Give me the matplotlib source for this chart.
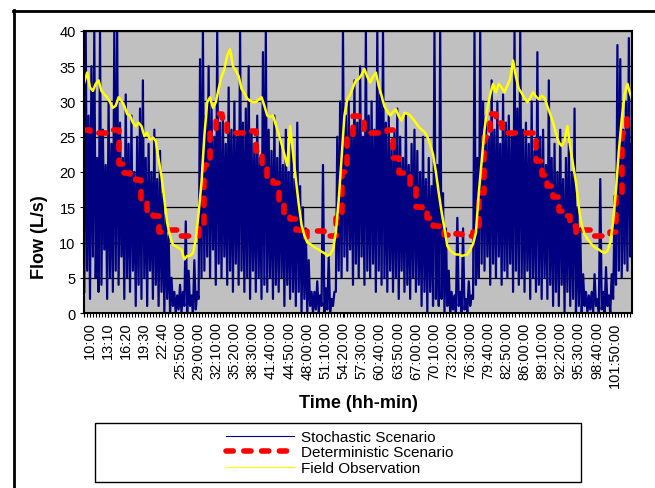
import numpy as np
import matplotlib.pyplot as plt
from matplotlib.patches import Rectangle
from matplotlib.lines import Line2D

plt.rcParams['font.family'] = ['Liberation Sans', 'DejaVu Sans']

# stochastic scenario, one value every 15 min starting at 9:00 (two hours per row)
stochastic = [
    3, 40, 6, 28, 2, 35, 8, 40,
    5, 22, 3, 40, 4, 26, 9, 21,
    2, 30, 5, 24, 3, 40, 6, 40,
    4, 27, 8, 22, 2, 31, 5, 24,
    3, 28, 6, 20, 1, 25, 4, 29,
    2, 33, 5, 22, 1, 24, 6, 20,
    2, 26, 4, 19, 1, 23, 3, 17,
    0, 14, 2, 11, 0, 5, 1, 3,
    0, 2.5, 0.5, 4, 0, 3, 1, 13,
    0, 6, 1, 2.5, 0, 7.5, 0.5, 3,
    2, 36, 5, 40, 6, 28, 8, 35,
    5, 30, 9, 25, 4, 40, 7, 27,
    5, 28, 8, 24, 4, 32, 6, 26,
    3, 30, 7, 25, 4, 40, 6, 27,
    3, 29, 5, 35, 2, 26, 6, 24,
    3, 28, 5, 22, 2, 37, 4, 40,
    3, 26, 5, 23, 2, 28, 4, 22,
    3, 25, 5, 21, 1, 26, 4, 20,
    2, 24, 3, 19, 1, 27, 3, 18,
    0, 15, 2, 12, 0, 7.5, 1, 3,
    0, 3, 0.5, 4.5, 0, 2.5, 1, 21,
    0, 3.5, 0.5, 8, 0, 2, 1, 3,
    3, 25, 6, 30, 5, 40, 8, 28,
    6, 30, 9, 26, 4, 33, 7, 27,
    5, 35, 8, 25, 4, 40, 6, 28,
    5, 30, 7, 26, 3, 40, 6, 31,
    4, 40, 5, 27, 3, 28, 6, 24,
    3, 26, 5, 29, 2, 25, 6, 22,
    3, 28, 4, 21, 2, 24, 5, 26,
    3, 23, 4, 20, 1, 25, 3, 19,
    0, 22, 3, 18, 1, 40, 2, 21,
    1, 40, 2, 17, 0, 12, 1, 6,
    0, 3, 0.5, 2.5, 0, 13.5, 1, 3,
    0, 12, 0.5, 2, 0, 4.5, 1, 2.5,
    2, 40, 4, 22, 5, 40, 7, 30,
    6, 28, 8, 25, 4, 33, 7, 26,
    5, 30, 8, 24, 4, 31, 6, 27,
    5, 28, 7, 25, 3, 40, 6, 29,
    4, 40, 5, 26, 3, 27, 6, 24,
    2, 30, 5, 23, 3, 37, 4, 25,
    2, 26, 5, 21, 2, 33, 4, 22,
    1, 24, 3, 20, 1, 26, 4, 19,
    0, 22, 3, 24, 1, 20, 2, 29,
    0, 15, 1, 12, 0, 5.5, 1, 3,
    0, 2.5, 0.5, 3, 0, 5.5, 1, 2,
    0, 19, 0.5, 3, 0, 6.5, 1, 2.5,
    0, 5.5, 2, 14, 4, 38, 6, 36,
    5, 26, 7, 30, 6, 39, 8, 24,
]

# deterministic scenario, hourly from 9:00 to 105:00
deterministic = [
    26.0, 25.5, 25.5, 25.5, 25.8, 26.0, 21.1, 19.8, 19.0, 18.8,
    16.0, 14.0, 13.7, 11.5, 11.8, 11.8, 11.8, 10.9, 10.9, 10.9,
    12.5, 21.0, 26.0, 28.2, 27.7, 25.5, 25.5, 25.6, 25.8, 25.8,
    23.0, 20.5, 19.0, 18.5, 16.0, 13.8, 13.3, 11.8, 10.8, 11.6,
    11.6, 11.6, 10.9, 10.9, 13.5, 20.0, 25.0, 28.0, 27.5, 25.6,
    25.6, 25.6, 25.6, 26.0, 22.0, 19.8, 19.4, 18.0, 15.0, 14.2,
    13.5, 12.3, 11.6, 11.0, 11.4, 11.2, 10.9, 10.9, 11.5, 17.0,
    25.0, 28.2, 27.0, 26.2, 25.6, 25.6, 25.6, 25.6, 25.6, 21.5,
    19.6, 18.0, 16.5, 14.5, 13.7, 12.3, 11.3, 11.8, 11.8, 10.9,
    10.9, 10.9, 11.5, 17.0, 25.6, 28.0, 28.0,
]

# field observation, every 30 min from 9:00
field = [
    32.7, 34.1, 32.0, 31.5, 32.5, 33.0, 31.5, 31.0, 30.6, 29.9,
    29.1, 29.4, 30.6, 30.1, 29.4, 28.2, 28.0, 27.0, 26.5, 27.0,
    26.5, 25.1, 25.6, 24.6, 24.9, 24.4, 21.8, 19.4, 16.1, 12.8,
    10.9, 9.7, 9.5, 9.2, 9.0, 7.6, 8.1, 8.1, 8.5, 10.4,
    14.2, 18.5, 25.1, 29.9, 30.6, 29.1, 29.9, 31.8, 33.5, 34.6,
    36.5, 37.4, 35.0, 34.4, 33.6, 31.8, 31.2, 30.4, 30.1, 29.9,
    29.9, 30.3, 30.6, 29.4, 28.0, 27.8, 28.0, 26.7, 25.4, 24.0,
    22.5, 20.9, 26.5, 22.7, 19.0, 15.5, 12.5, 11.0, 10.0, 9.8,
    9.5, 9.2, 9.0, 8.7, 8.5, 8.1, 8.3, 9.0, 11.5, 16.0,
    22.0, 28.0, 30.3, 31.0, 32.0, 33.0, 33.2, 33.8, 34.6, 33.5,
    32.7, 33.5, 34.1, 32.2, 30.8, 29.3, 28.6, 28.0, 28.5, 28.9,
    27.9, 27.3, 28.4, 28.3, 28.0, 27.5, 27.0, 26.4, 26.0, 25.7,
    25.0, 23.9, 22.5, 20.0, 17.0, 14.3, 12.0, 9.5, 8.9, 8.5,
    8.3, 8.3, 8.1, 8.2, 8.3, 9.0, 9.8, 11.4, 17.0, 21.5,
    26.0, 29.0, 31.0, 32.5, 31.3, 32.5, 32.0, 31.3, 32.3, 33.2,
    35.8, 33.5, 31.8, 31.2, 30.5, 29.9, 30.5, 31.3, 30.7, 30.3,
    30.8, 30.5, 29.3, 28.2, 27.0, 25.5, 24.2, 23.7, 24.5, 26.5,
    23.5, 21.0, 18.5, 15.0, 12.5, 11.2, 10.5, 10.0, 9.5, 9.2,
    9.0, 8.7, 8.5, 8.8, 10.0, 13.0, 17.5, 23.0, 27.5, 31.0,
    32.5, 31.0, 30.0,
]

tick_labels = ['10:00', '13:10', '16:20', '19:30', '22:40', '25:50:00', '29:00:00',
               '32:10:00', '35:20:00', '38:30:00', '41:40:00', '44:50:00', '48:00:00',
               '51:10:00', '54:20:00', '57:30:00', '60:40:00', '63:50:00', '67:00:00',
               '70:10:00', '73:20:00', '76:30:00', '79:40:00', '82:50:00', '86:00:00',
               '89:10:00', '92:20:00', '95:30:00', '98:40:00', '101:50:00']

t_stoch = 9.0 + 0.25 * np.arange(len(stochastic))
t_det = 9.0 + np.arange(len(deterministic))
t_field = 9.0 + 0.5 * np.arange(len(field))
tick_pos = 10 + np.arange(len(tick_labels)) * 19 / 6.0

fig = plt.figure(figsize=(6.55, 4.89), dpi=100)
ax = fig.add_axes([84/655, 175/489, 548/655, 282/489])
ax.set_facecolor('#C0C0C0')

l1, = ax.plot(t_stoch, stochastic, color='#000080', lw=1.6, label='Stochastic Scenario')
l2, = ax.plot(t_det, deterministic, color='#FF0000', lw=4, drawstyle='steps-post',
              dashes=(1.3, 1.9), dash_capstyle='round', label='Deterministic Scenario')
l3, = ax.plot(t_field, field, color='#FFFF00', lw=1.8, label='Field Observation')

ax.set_xlim(8.95, 104.8)
ax.set_ylim(0, 40)
ax.set_yticks(range(0, 41, 5))
ax.yaxis.grid(True, color='black', lw=0.9)
ax.set_axisbelow(True)
ax.set_xticks(tick_pos)
ax.set_xticklabels(tick_labels, rotation=90)
ax.set_xticks(np.arange(8.95, 104.8, 19 / 36.0), minor=True)
ax.tick_params(axis='both', which='both', direction='out', length=3, width=0.8,
               labelsize=10.5, pad=3)
for s in ax.spines.values():
    s.set_linewidth(1.5)

ax.set_ylabel('Flow (L/s)', fontsize=13, fontweight='bold')
ax.yaxis.set_label_coords((40 - 84) / 548.0, (314 - 237) / 282.0)
ax.set_xlabel('Time (hh-min)', fontsize=13, fontweight='bold')
ax.xaxis.set_label_coords(0.5, (314 - 403) / 282.0)
ax.xaxis.label.set_va('center')
ax.yaxis.label.set_va('center')

# legend box under the chart
fig.patches.append(Rectangle((95/655, 6/489), 486/655, 59/489, transform=fig.transFigure,
                             facecolor='white', edgecolor='black', lw=1, zorder=0))
leg = fig.legend(handles=[l1, l2, l3], loc='center', bbox_to_anchor=(340/655, 35.5/489),
                 frameon=False, fontsize=11, handlelength=4.4, handletextpad=0.5,
                 labelspacing=0.1, borderpad=0)
leg.get_lines()[0].set_linewidth(0.8)
leg.get_lines()[2].set_linewidth(0.8)

# chart area border
fig.add_artist(Line2D([13.5/655, 13.5/655], [0, 478/489], color='black', lw=2))
fig.add_artist(Line2D([13/655, 1], [477.5/489, 477.5/489], color='black', lw=2))

fig.savefig('out.png', dpi=100)
